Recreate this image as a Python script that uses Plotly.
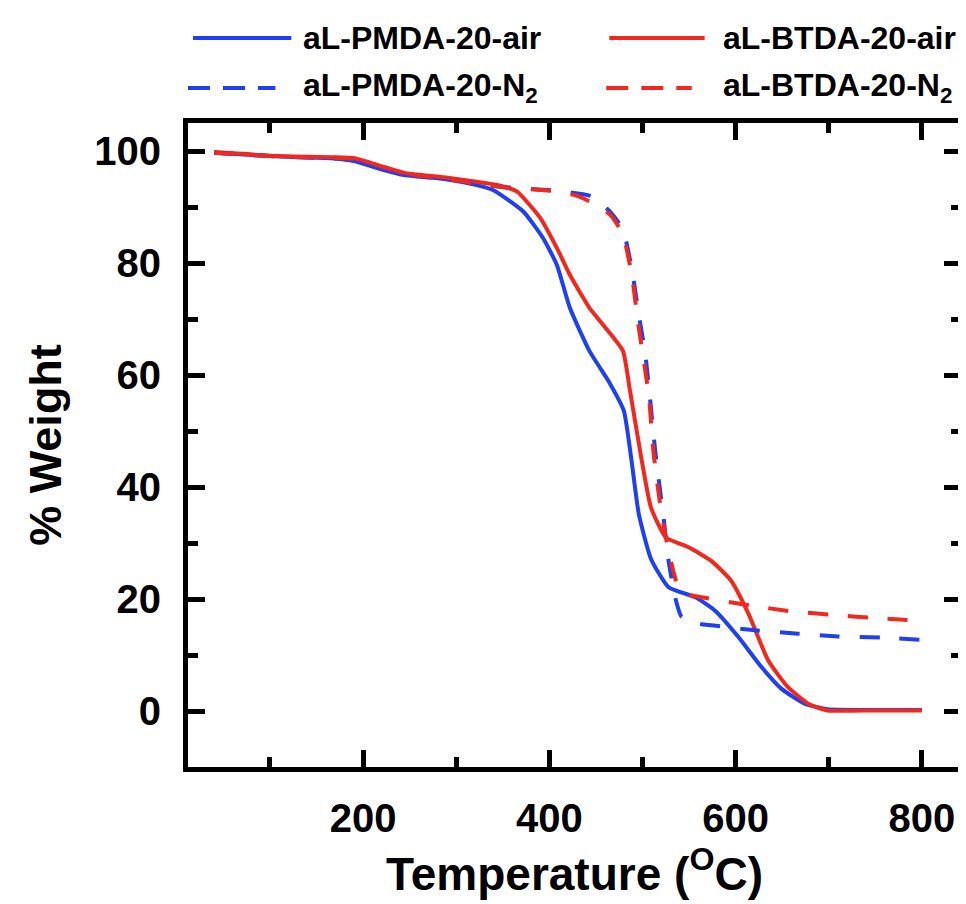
import plotly.graph_objects as go

# TGA curves (temperature in C, weight in %)
temp_pmda_air = [40, 110, 165, 190, 222, 244, 287, 322, 340, 372, 393, 408, 422, 443, 465,
                 480, 488, 496, 509, 528, 557, 578, 603, 628, 649, 674, 699, 750, 800]
wt_pmda_air = [99.7, 99.0, 98.7, 98.2, 96.6, 95.7, 95.0, 93.9, 93.0, 89.2, 84.5, 79.7, 72.0, 64.3, 58.5,
               53.6, 45.0, 35.2, 27.2, 22.1, 20.3, 17.9, 13.2, 7.8, 4.0, 1.3, 0.3, 0.2, 0.2]

temp_btda_air = [40, 109, 166, 191, 223, 244, 287, 322, 345, 365, 390, 408, 422, 443, 460,
                 479, 486, 498, 509, 525, 550, 574, 595, 614, 635, 656, 678, 699, 750, 800]
wt_btda_air = [99.8, 99.1, 98.9, 98.7, 97.1, 96.1, 95.3, 94.5, 93.9, 92.8, 88.1, 82.7, 77.9, 72.0, 68.5,
               64.3, 57.8, 45.9, 36.4, 31.0, 29.2, 26.8, 23.3, 17.3, 9.0, 4.3, 1.3, 0.1, 0.1, 0.1]

temp_pmda_n2 = [40, 110, 190, 245, 290, 330, 354, 407, 446, 466, 479, 489, 496, 503, 508,
                514, 523, 528, 536, 542, 560, 574, 621, 667, 710, 756, 800]
wt_pmda_n2 = [99.7, 99.0, 98.4, 95.8, 95.0, 94.0, 93.5, 92.9, 91.9, 89.0, 86.0, 78.5, 70.8, 63.7, 56.0,
              45.9, 34.0, 26.8, 19.7, 16.8, 15.6, 15.3, 14.4, 13.8, 13.3, 13.1, 12.7]

temp_btda_n2 = [40, 110, 190, 245, 290, 330, 354, 407, 430, 450, 466, 479, 489, 495, 502,
                507, 512, 518, 525, 536, 545, 564, 617, 660, 702, 749, 800]
wt_btda_n2 = [99.7, 99.0, 98.6, 96.0, 95.0, 94.0, 93.5, 92.8, 92.0, 90.4, 88.5, 85.1, 77.4, 69.6, 61.9,
              56.0, 45.9, 38.1, 31.0, 23.3, 21.0, 20.3, 18.8, 17.8, 17.2, 16.6, 16.1]

names = ["aL-PMDA-20-air", "aL-BTDA-20-air", "aL-PMDA-20-N<sub>2</sub>", "aL-BTDA-20-N<sub>2</sub>"]

BLUE = "#1f3ff2"
RED = "#f2281e"
W, H = 966, 904
L, R, T, B = 180, 8, 115, 145

fig = go.Figure()
series = [
    (temp_pmda_air, wt_pmda_air, BLUE, "solid"),
    (temp_btda_air, wt_btda_air, RED, "solid"),
    (temp_pmda_n2, wt_pmda_n2, BLUE, "20px,20px"),
    (temp_btda_n2, wt_btda_n2, RED, "20px,20px"),
]
for (x, y, c, d), n in zip(series, names):
    fig.add_trace(go.Scatter(x=x, y=y, mode="lines", name=n,
                             line=dict(color=c, width=4, dash=d, shape="spline", smoothing=0.5)))


# legend drawn by hand so the sample lines are as long as in the original
def px_x(p):
    return (p - L) / (W - L - R)


def px_y(p):
    return (H - B - p) / (H - T - B)


legend_rows = [(30, 185, 284, 604, 700, "solid"), (80, 180, 268, 601, 687, "22px,13px")]
shapes = []
annotations = []
for i, (py, bx0, bx1, rx0, rx1, d) in enumerate(legend_rows):
    for (x0, x1, c, tx, n) in [(bx0, bx1, BLUE, 294, names[2 * i]), (rx0, rx1, RED, 716, names[2 * i + 1])]:
        shapes.append(dict(type="line", xref="paper", yref="paper",
                           x0=px_x(x0), x1=px_x(x1), y0=px_y(py), y1=px_y(py),
                           line=dict(color=c, width=4, dash=d)))
        annotations.append(dict(xref="paper", yref="paper", x=px_x(tx), y=px_y(py),
                                xanchor="left", yanchor="middle", showarrow=False, text=n,
                                font=dict(size=32, color="black", weight="bold")))

axis_common = dict(showline=True, linewidth=5, linecolor="black", mirror="ticks",
                   ticks="inside", ticklen=17, tickwidth=5, tickcolor="black",
                   showgrid=False, zeroline=False,
                   tickfont=dict(size=40, color="black", weight="bold"))

fig.update_layout(
    width=W, height=H,
    margin=dict(l=L, r=R, t=T, b=B),
    paper_bgcolor="white", plot_bgcolor="white",
    font=dict(family="Liberation Sans, Arial, sans-serif", color="black"),
    showlegend=False,
    shapes=shapes,
    annotations=annotations,
    xaxis=dict(range=[12, 842], tickvals=[200, 400, 600, 800],
               minor=dict(tickvals=[100, 300, 500, 700], ticks="inside", ticklen=10,
                          tickwidth=5, tickcolor="black"),
               ticklabelstandoff=12,
               title=dict(text="Temperature (<sup>O</sup>C)", standoff=20,
                          font=dict(size=46, weight="bold")),
               **axis_common),
    yaxis=dict(range=[-10, 105], tickvals=[0, 20, 40, 60, 80, 100],
               minor=dict(tickvals=[10, 30, 50, 70, 90], ticks="inside", ticklen=10,
                          tickwidth=5, tickcolor="black"),
               ticklabelstandoff=14,
               title=dict(text="% Weight", standoff=20,
                          font=dict(size=45, weight="bold")),
               **axis_common),
)

fig.write_html("out.html")
